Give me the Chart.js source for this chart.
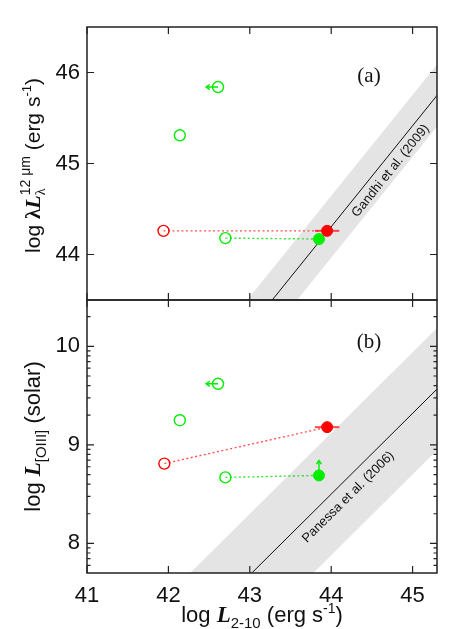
<!DOCTYPE html>
<html>
<head>
<meta charset="utf-8">
<script src="https://cdn.jsdelivr.net/npm/chart.js@4.4.0/dist/chart.umd.min.js"></script>
<style>
  body { margin: 0; background: #fff; }
  #wrap { position: relative; width: 463px; height: 629px; overflow: hidden; }
  .panel { position: absolute; left: 0; }
  #panelA { top: 0; }
  #panelB { top: 299px; }
</style>
</head>
<body>
<div id="wrap">
  <div class="panel" id="panelA"><canvas id="chartA" width="463" height="302"></canvas></div>
  <div class="panel" id="panelB"><canvas id="chartB" width="463" height="330"></canvas></div>
</div>
<script>
// shared x axis: log L(2-10 keV)
const xTicks = [41, 42, 43, 44, 45];
const xMin = 41, xMax = 45.3;

// panel (a): 12 micron luminosity
const aTicks = [44, 45, 46];
const aOpenGreenX = [42.61, 42.14, 42.70];
const aOpenGreenY = [45.84, 45.31, 44.18];
const aOpenRedX = [41.94];
const aOpenRedY = [44.26];
const aFilledRedX = [43.95];
const aFilledRedY = [44.26];
const aFilledGreenX = [43.85];
const aFilledGreenY = [44.17];
const aRedErrX = [43.80, 44.10];
// Gandhi et al. (2009) relation and its scatter band
const gandhiX = [42.6, 45.5];
const gandhiY = [42.75, 45.97];
const gandhiUpper = [43.09, 46.31];
const gandhiLower = [42.41, 45.63];

// panel (b): [OIII] luminosity
const bTicks = [8, 9, 10];
const bOpenGreenX = [42.61, 42.14, 42.70];
const bOpenGreenY = [9.62, 9.25, 8.67];
const bOpenRedX = [41.95];
const bOpenRedY = [8.81];
const bFilledRedX = [43.95];
const bFilledRedY = [9.18];
const bFilledGreenX = [43.85];
const bFilledGreenY = [8.69];
const bRedErrX = [43.80, 44.10];
// Panessa et al. (2006) relation and its scatter band
const panessaX = [42.0, 45.5];
const panessaY = [6.86, 9.73];
const panessaUpper = [7.48, 10.35];
const panessaLower = [6.24, 9.11];

const GREEN = "#00ee00";
const RED = "#ff0000";
const SANS = "Liberation Sans";
const SERIF = "Liberation Serif";

function xy(xs, ys) {
    return xs.map(function (x, i) { return { x: x, y: ys[i] }; });
}

function pointSet(xs, ys, color, filled) {
    return {
        data: xy(xs, ys),
        showLine: false,
        pointRadius: 5.5,
        pointHoverRadius: 5.5,
        pointBorderWidth: filled ? 1 : 1.4,
        pointBorderColor: color,
        pointBackgroundColor: filled ? color : "rgba(0,0,0,0)",
        order: 0
    };
}

function lineSet(data, color, width, dash, order) {
    return {
        data: data,
        showLine: true,
        borderColor: color,
        borderWidth: width,
        borderDash: dash || [],
        pointRadius: 0,
        pointHoverRadius: 0,
        fill: false,
        order: order
    };
}

function bandSets(xs, upper, lower) {
    const up = lineSet(xy(xs, upper), "rgba(0,0,0,0)", 0, null, 3);
    up.fill = "+1";
    up.backgroundColor = "#e4e4e4";
    const lo = lineSet(xy(xs, lower), "rgba(0,0,0,0)", 0, null, 3);
    return [up, lo];
}

function connector(x0, y0, x1, y1, color) {
    return lineSet([{ x: x0, y: y0 }, { x: x1, y: y1 }], color, 1.4, [2, 2.5], 1);
}

// text made of pieces with sub/superscripts; rotated -90deg if asked
function drawRich(ctx, parts, cx, cy, rotate) {
    ctx.save();
    ctx.translate(cx, cy);
    if (rotate) ctx.rotate(-Math.PI / 2);
    let cur = 0, prevStart = 0;
    parts.forEach(function (p) {
        ctx.font = p.f;
        p.w = ctx.measureText(p.t).width;
        const start = p.stack ? prevStart : cur;
        p.x = start;
        cur = Math.max(cur, start + p.w);
        prevStart = start;
    });
    const total = cur;
    ctx.fillStyle = "#111";
    ctx.textBaseline = "alphabetic";
    ctx.textAlign = "left";
    parts.forEach(function (p) {
        ctx.font = p.f;
        ctx.fillText(p.t, p.x - total / 2, p.dy || 0);
    });
    ctx.restore();
}

function arrow(ctx, x0, y0, x1, y1, color) {
    const ang = Math.atan2(y1 - y0, x1 - x0);
    ctx.save();
    ctx.strokeStyle = color;
    ctx.lineWidth = 1.4;
    ctx.beginPath();
    ctx.moveTo(x0, y0);
    ctx.lineTo(x1, y1);
    ctx.moveTo(x1 - 4.5 * Math.cos(ang - 0.6), y1 - 4.5 * Math.sin(ang - 0.6));
    ctx.lineTo(x1, y1);
    ctx.lineTo(x1 - 4.5 * Math.cos(ang + 0.6), y1 - 4.5 * Math.sin(ang + 0.6));
    ctx.stroke();
    ctx.restore();
}

function decorPlugin(cfg) {
    return {
        id: "decor",
        afterDatasetsDraw: function (chart) {
            const ctx = chart.ctx, a = chart.chartArea;
            const xs = chart.scales.x, ys = chart.scales.y;

            // limit arrows
            cfg.arrows.forEach(function (ar) {
                const px = xs.getPixelForValue(ar.x), py = ys.getPixelForValue(ar.y);
                arrow(ctx, px, py, px + ar.dx, py + ar.dy, GREEN);
            });

            // relation label along the line
            const p0x = xs.getPixelForValue(cfg.rel.xs[0]), p0y = ys.getPixelForValue(cfg.rel.ys[0]);
            const p1x = xs.getPixelForValue(cfg.rel.xs[1]), p1y = ys.getPixelForValue(cfg.rel.ys[1]);
            const ang = Math.atan2(p1y - p0y, p1x - p0x);
            ctx.save();
            ctx.beginPath();
            ctx.rect(a.left, a.top, a.width, a.height);
            ctx.clip();
            ctx.translate(xs.getPixelForValue(cfg.rel.lx), ys.getPixelForValue(cfg.rel.ly));
            ctx.rotate(ang);
            ctx.font = "13px " + SANS;
            ctx.fillStyle = "#111";
            ctx.textAlign = "center";
            ctx.textBaseline = "middle";
            ctx.fillText(cfg.rel.text, 0, 0);
            ctx.restore();

            // panel tag
            ctx.save();
            ctx.font = "21px " + SERIF;
            ctx.fillStyle = "#111";
            ctx.textAlign = "center";
            ctx.textBaseline = "middle";
            ctx.fillText(cfg.tag, a.right - 68, a.top + cfg.tagDy);
            ctx.restore();

            // inward ticks and frame
            ctx.save();
            ctx.strokeStyle = "#222";
            ctx.lineWidth = 1.2;
            ctx.beginPath();
            xTicks.forEach(function (v) {
                const p = xs.getPixelForValue(v);
                ctx.moveTo(p, a.top); ctx.lineTo(p, a.top + 7);
                ctx.moveTo(p, a.bottom); ctx.lineTo(p, a.bottom - 7);
            });
            cfg.yTicks.forEach(function (v) {
                const p = ys.getPixelForValue(v);
                ctx.moveTo(a.left, p); ctx.lineTo(a.left + 7, p);
                ctx.moveTo(a.right, p); ctx.lineTo(a.right - 7, p);
            });
            cfg.yMinor.forEach(function (v) {
                if (v < ys.min || v > ys.max) return;
                const p = ys.getPixelForValue(v);
                ctx.moveTo(a.left, p); ctx.lineTo(a.left + 3.5, p);
                ctx.moveTo(a.right, p); ctx.lineTo(a.right - 3.5, p);
            });
            ctx.stroke();
            ctx.lineWidth = 1.5;
            ctx.strokeRect(a.left, a.top, a.width, a.height);
            ctx.restore();
        },
        afterDraw: function (chart) {
            const ctx = chart.ctx, a = chart.chartArea;
            drawRich(chart.ctx, cfg.yTitle, 40, (a.top + a.bottom) / 2 + (cfg.yTitleDy || 0), true);
            if (cfg.xTitle) drawRich(ctx, cfg.xTitle, (a.left + a.right) / 2, a.bottom + 49, false);
        }
    };
}

function noPad(s) {
    s.paddingTop = 0;
    s.paddingBottom = 0;
    s.paddingLeft = 0;
    s.paddingRight = 0;
}

function makePanel(canvasId, cfg) {
    return new Chart(document.getElementById(canvasId), {
        type: "scatter",
        data: { datasets: cfg.datasets },
        options: {
            responsive: false,
            animation: false,
            events: [],
            layout: { autoPadding: false, padding: { top: cfg.padTop, right: 26, left: 0, bottom: 0 } },
            plugins: { legend: { display: false }, tooltip: { enabled: false } },
            scales: {
                x: {
                    type: "linear", min: xMin, max: xMax,
                    grid: { display: false, drawTicks: false },
                    border: { display: false },
                    ticks: {
                        display: cfg.showX, padding: 10, color: "#111",
                        font: { family: SANS, size: 22 }
                    },
                    afterBuildTicks: function (s) { s.ticks = xTicks.map(function (v) { return { value: v }; }); },
                    afterFit: function (s) { s.height = cfg.xHeight; noPad(s); }
                },
                y: {
                    type: "linear", min: cfg.yMin, max: cfg.yMax,
                    grid: { display: false, drawTicks: false },
                    border: { display: false },
                    ticks: { padding: 7, color: "#111", font: { family: SANS, size: 22 } },
                    afterBuildTicks: function (s) { s.ticks = cfg.yTicks.map(function (v) { return { value: v }; }); },
                    afterFit: function (s) { s.width = 87; noPad(s); }
                }
            }
        },
        plugins: [decorPlugin(cfg)]
    });
}

document.addEventListener("DOMContentLoaded", function () {
    const big = "22px " + SANS;
    const mid = "21px " + SANS;
    const Lfont = "bold italic 23px " + SERIF;
    const small = "15px " + SANS;

    // log minor ticks for panel (b)
    const bMinor = [];
    [7, 8, 9, 10].forEach(function (n) {
        for (let k = 2; k <= 9; k++) bMinor.push(n + Math.log10(k));
    });

    makePanel("chartA", {
        padTop: 27, xHeight: 2, showX: false,
        yMin: 43.5, yMax: 46.5, yTicks: aTicks, yMinor: [],
        tag: "(a)", tagDy: 49,
        arrows: [{ x: aOpenGreenX[0], y: aOpenGreenY[0], dx: -12, dy: 0 }],
        rel: { xs: gandhiX, ys: gandhiY, lx: 44.73, ly: 44.92, text: "Gandhi et al. (2009)" },
        yTitleDy: 2,
        yTitle: [
            { t: "log ", f: mid },
            { t: "λ", f: "bold 21px " + SERIF },
            { t: "L", f: "bold italic 22px " + SERIF },
            { t: "λ", f: "14px " + SERIF, dy: 5 },
            { t: "12 μm", f: "14px " + SANS, dy: -10, stack: true },
            { t: " (erg s", f: mid },
            { t: "-1", f: "13px " + SANS, dy: -9 },
            { t: ")", f: mid }
        ],
        datasets: [
            pointSet(aOpenGreenX, aOpenGreenY, GREEN, false),
            pointSet(aOpenRedX, aOpenRedY, RED, false),
            pointSet(aFilledRedX, aFilledRedY, RED, true),
            pointSet(aFilledGreenX, aFilledGreenY, GREEN, true),
            lineSet(xy(aRedErrX, [aFilledRedY[0], aFilledRedY[0]]), "rgba(255,0,0,0.7)", 2, null, 1),
            connector(aOpenRedX[0], aOpenRedY[0], aFilledRedX[0], aFilledRedY[0], "rgba(255,40,40,0.8)"),
            connector(aOpenGreenX[2], aOpenGreenY[2], aFilledGreenX[0], aFilledGreenY[0], "rgba(0,220,0,0.8)"),
            lineSet(xy(gandhiX, gandhiY), "#111", 1, null, 2)
        ].concat(bandSets(gandhiX, gandhiUpper, gandhiLower))
    });

    makePanel("chartB", {
        padTop: 1, xHeight: 56, showX: true,
        yMin: 7.7, yMax: 10.47, yTicks: bTicks, yMinor: bMinor,
        tag: "(b)", tagDy: 42,
        arrows: [
            { x: bOpenGreenX[0], y: bOpenGreenY[0], dx: -12, dy: 0 },
            { x: bFilledGreenX[0], y: bFilledGreenY[0], dx: 0, dy: -15 }
        ],
        rel: { xs: panessaX, ys: panessaY, lx: 44.21, ly: 8.47, text: "Panessa et al. (2006)" },
        yTitle: [
            { t: "log ", f: big },
            { t: "L", f: Lfont },
            { t: "[OIII]", f: small, dy: 6 },
            { t: " (solar)", f: big }
        ],
        xTitle: [
            { t: "log ", f: big },
            { t: "L", f: Lfont },
            { t: "2-10", f: small, dy: 6 },
            { t: " (erg s", f: big },
            { t: "-1", f: "14px " + SANS, dy: -9 },
            { t: ")", f: big }
        ],
        datasets: [
            pointSet(bOpenGreenX, bOpenGreenY, GREEN, false),
            pointSet(bOpenRedX, bOpenRedY, RED, false),
            pointSet(bFilledRedX, bFilledRedY, RED, true),
            pointSet(bFilledGreenX, bFilledGreenY, GREEN, true),
            lineSet(xy(bRedErrX, [bFilledRedY[0], bFilledRedY[0]]), "rgba(255,0,0,0.7)", 2, null, 1),
            connector(bOpenRedX[0], bOpenRedY[0], bFilledRedX[0], bFilledRedY[0], "rgba(255,40,40,0.8)"),
            connector(bOpenGreenX[2], bOpenGreenY[2], bFilledGreenX[0], bFilledGreenY[0], "rgba(0,220,0,0.8)"),
            lineSet(xy(panessaX, panessaY), "#111", 1, null, 2)
        ].concat(bandSets(panessaX, panessaUpper, panessaLower))
    });
});
</script>
</body>
</html>
